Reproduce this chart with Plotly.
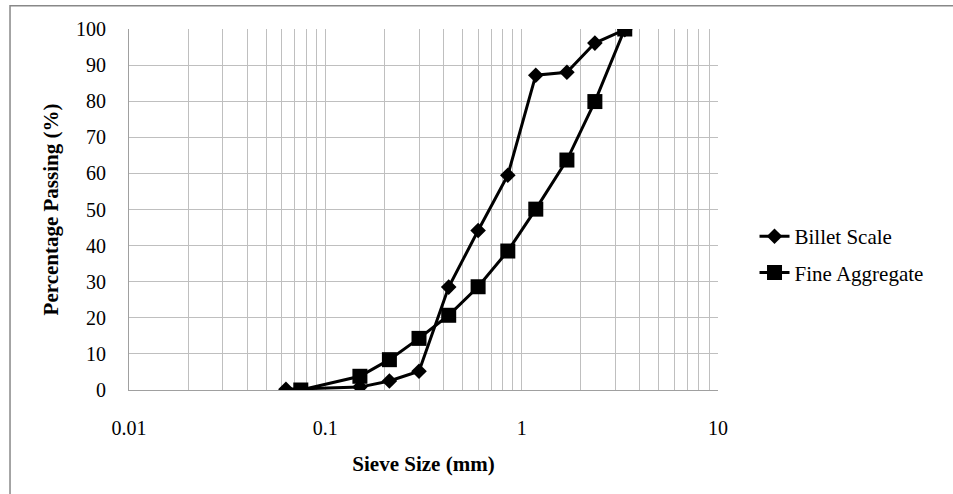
import plotly.graph_objects as go

sieve_billet = [0.063, 0.15, 0.212, 0.3, 0.425, 0.6, 0.85, 1.18, 1.7, 2.36, 3.35]
pass_billet = [0.2, 0.8, 2.5, 5.2, 28.5, 44.2, 59.5, 87.2, 88.0, 96.1, 99.8]
sieve_fine = [0.075, 0.15, 0.212, 0.3, 0.425, 0.6, 0.85, 1.18, 1.7, 2.36, 3.35]
pass_fine = [0.0, 3.8, 8.4, 14.3, 20.7, 28.6, 38.5, 50.1, 63.7, 79.9, 100.0]

x_tickvals = [0.01, 0.1, 1, 10]
x_ticktext = ["0.01", "0.1", "1", "10"]

font_family = "Liberation Serif"

fig = go.Figure()
fig.add_trace(go.Scatter(x=sieve_billet, y=pass_billet, mode="lines+markers", name="Billet Scale",
                         legendgroup="a",
                         line=dict(color="black", width=3),
                         marker=dict(symbol="diamond", size=12, color="black")))
fig.add_trace(go.Scatter(x=sieve_fine, y=pass_fine, mode="lines+markers", name="Fine Aggregate",
                         legendgroup="b",
                         line=dict(color="black", width=3),
                         marker=dict(symbol="square", size=15, color="black")))

fig.update_layout(
    width=953, height=494,
    margin=dict(l=129, r=235, t=29, b=104),
    paper_bgcolor="white", plot_bgcolor="white",
    font=dict(family=font_family, color="black", size=20),
    showlegend=True,
    legend=dict(x=1.062, y=0.375, xanchor="left", yanchor="middle",
                font=dict(family=font_family, size=21, color="black"),
                bgcolor="rgba(0,0,0,0)", tracegroupgap=6, itemsizing="trace"),
    xaxis=dict(type="log", range=[-2, 1], tickvals=x_tickvals, ticktext=x_ticktext,
               tickfont=dict(size=20, family=font_family),
               showgrid=True, gridcolor="#bfbfbf", gridwidth=1,
               minor=dict(dtick="D1", showgrid=True, gridcolor="#bfbfbf", gridwidth=1, ticks=""),
               showline=True, linecolor="#a0a0a0", linewidth=1, mirror=False,
               ticks="", ticklabelstandoff=20, zeroline=False,
               title=dict(text="<b>Sieve Size (mm)</b>", font=dict(size=21, family=font_family), standoff=18)),
    yaxis=dict(range=[0, 100], dtick=10,
               tickfont=dict(size=20, family=font_family),
               showgrid=True, gridcolor="#bfbfbf", gridwidth=1,
               showline=True, linecolor="#a0a0a0", linewidth=1,
               ticks="", ticklabelstandoff=18, zeroline=False,
               title=dict(text="<b>Percentage Passing (%)</b>", font=dict(size=21, family=font_family), standoff=11)),
    shapes=[dict(type="rect", xref="paper", yref="paper",
                 x0=-0.202, x1=1.45, y0=-0.4, y1=1.0647,
                 line=dict(color="#888888", width=1.5), layer="below")],
)

fig.write_html("out.html")
